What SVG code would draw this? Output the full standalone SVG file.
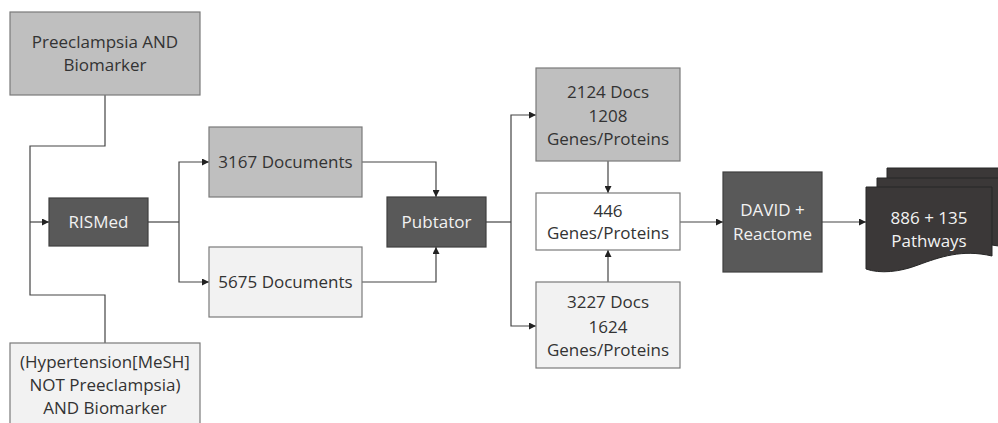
<svg xmlns="http://www.w3.org/2000/svg" width="998" height="423" viewBox="0 0 998 423">
  <style>
    .box { stroke: #7a7a7a; stroke-width: 1.2; }
    .mid { fill: #bfbfbf; }
    .light { fill: #f2f2f2; }
    .white { fill: #ffffff; }
    .dark { fill: #595959; stroke: #404040; stroke-width: 1.2; }
    .doc { fill: #3b3838; stroke: #262626; stroke-width: 1; }
    text { font-family: "Open Sans", "Noto Sans", sans-serif; font-size: 17px; text-anchor: middle; }
    .t { fill: #333333; }
    .tw { fill: #f2f2f2; }
    .wire { fill: none; stroke: #444444; stroke-width: 1.2; }
    .arr { marker-end: url(#head); }
  </style>
  <defs>
    <marker id="head" viewBox="0 0 10 10" refX="10" refY="5" markerWidth="7" markerHeight="7" markerUnits="userSpaceOnUse" orient="auto">
      <path d="M0,0 L10,5 L0,10 Z" fill="#222222"/>
    </marker>
  </defs>

  <g id="connectors">
    <path class="wire" d="M105,95 V146 H30 V295 H105 V343"/>
    <path class="wire arr" d="M30,222 H49"/>
    <path class="wire" d="M148,222 H179"/>
    <path class="wire arr" d="M179,222 V162 H209"/>
    <path class="wire arr" d="M179,222 V282 H209"/>
    <path class="wire arr" d="M362,162 H436 V197"/>
    <path class="wire arr" d="M362,282 H436 V247"/>
    <path class="wire" d="M486,222 H511"/>
    <path class="wire arr" d="M511,222 V115 H536"/>
    <path class="wire arr" d="M511,222 V326 H536"/>
    <path class="wire arr" d="M608,161 V193"/>
    <path class="wire arr" d="M608,282 V250"/>
    <path class="wire arr" d="M680,222 H723"/>
    <path class="wire arr" d="M822,222 H866"/>
  </g>

  <g id="query-preeclampsia">
    <rect class="box mid" x="10" y="12" width="190" height="83"/>
    <text class="t" x="105" y="48">Preeclampsia AND</text>
    <text class="t" x="105" y="71">Biomarker</text>
  </g>

  <g id="query-hypertension">
    <rect class="box light" x="10" y="343" width="190" height="90"/>
    <text class="t" x="105" y="368">(Hypertension[MeSH]</text>
    <text class="t" x="105" y="391">NOT Preeclampsia)</text>
    <text class="t" x="105" y="414">AND Biomarker</text>
  </g>

  <g id="rismed">
    <rect class="dark" x="49" y="198" width="99" height="48"/>
    <text class="tw" x="98.5" y="228">RISMed</text>
  </g>

  <g id="docs-3167">
    <rect class="box mid" x="209" y="127" width="153" height="70"/>
    <text class="t" x="285.5" y="168">3167 Documents</text>
  </g>

  <g id="docs-5675">
    <rect class="box light" x="209" y="247" width="153" height="70"/>
    <text class="t" x="285.5" y="288">5675 Documents</text>
  </g>

  <g id="pubtator">
    <rect class="dark" x="387" y="197" width="99" height="50"/>
    <text class="tw" x="436.5" y="228">Pubtator</text>
  </g>

  <g id="genes-1208">
    <rect class="box mid" x="536" y="68" width="144" height="93"/>
    <text class="t" x="608" y="98">2124 Docs</text>
    <text class="t" x="608" y="122">1208</text>
    <text class="t" x="608" y="145">Genes/Proteins</text>
  </g>

  <g id="genes-446">
    <rect class="box white" x="536" y="193" width="144" height="57"/>
    <text class="t" x="608" y="217">446</text>
    <text class="t" x="608" y="239">Genes/Proteins</text>
  </g>

  <g id="genes-1624">
    <rect class="box light" x="536" y="282" width="144" height="86"/>
    <text class="t" x="608" y="308">3227 Docs</text>
    <text class="t" x="608" y="333">1624</text>
    <text class="t" x="608" y="356">Genes/Proteins</text>
  </g>

  <g id="david-reactome">
    <rect class="dark" x="723" y="172" width="99" height="100"/>
    <text class="tw" x="772.5" y="216">DAVID +</text>
    <text class="tw" x="772.5" y="240">Reactome</text>
  </g>

  <g id="pathways">
    <path class="doc" d="M887,168 H1013 V238 C983,231 961,239 939,247 C921,254 901,256 887,251 Z"/>
    <path class="doc" d="M877,178 H1003 V247 C973,240 951,248 929,256 C911,263 891,265 877,260 Z"/>
    <path class="doc" d="M866,187 H992 V256 C962,249 940,257 918,265 C900,272 880,274 866,269 Z"/>
    <text class="tw" x="929" y="224">886 + 135</text>
    <text class="tw" x="929" y="247">Pathways</text>
  </g>
</svg>
